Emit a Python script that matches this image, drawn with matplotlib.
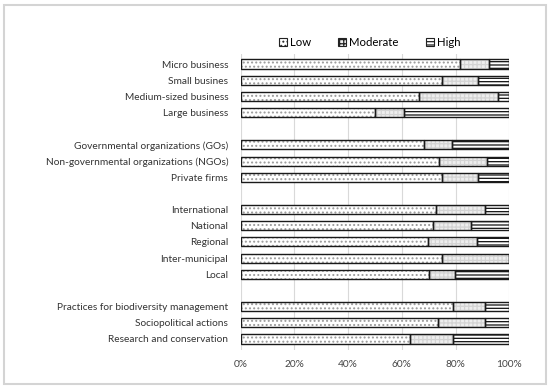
import numpy as np
import matplotlib.pyplot as plt
from matplotlib.patches import Patch, Rectangle

plt.rcParams['font.family'] = ['Lato', 'DejaVu Sans']
plt.rcParams['hatch.linewidth'] = 0.9

# =========================
# data (% of responses)
# =========================
groups = [
    ["Micro business", "Small busines", "Medium-sized business", "Large business"],
    ["Governmental organizations (GOs)", "Non-governmental organizations (NGOs)", "Private firms"],
    ["International", "National", "Regional", "Inter-municipal", "Local"],
    ["Practices for biodiversity management", "Sociopolitical actions", "Research and conservation"],
]
low = [81.6, 74.9, 66.5, 50.0,
       68.1, 73.9, 74.8,
       72.8, 71.5, 69.7, 74.9, 70.1,
       79.2, 73.6, 63.1]
moderate = [10.7, 13.6, 29.3, 10.9,
            10.4, 17.8, 13.7,
            18.0, 14.4, 18.3, 25.1, 9.8,
            11.9, 17.5, 15.8]
high = [7.7, 11.5, 4.2, 39.1,
        21.5, 8.3, 11.5,
        9.2, 14.1, 12.0, 0.0, 20.1,
        8.9, 8.9, 21.1]
series_names = ["Low", "Moderate", "High"]
xticks = [0, 20, 40, 60, 80, 100]

# =========================
# positions with a gap between groups
# =========================
labels, ypos = [], []
slot = 0
for g in groups:
    for name in g:
        labels.append(name)
        ypos.append(slot)
        slot += 1
    slot += 1
ypos = np.array(ypos)

styles = [
    dict(face="white", hatch="....", hcolor="#9a9a9a"),
    dict(face="#eeeeee", hatch="++++", hcolor="#d4d4d4"),
    dict(face="white", hatch="-----", hcolor="#111111"),
]

fig = plt.figure(figsize=(5.5, 3.89), dpi=100)
ax = fig.add_axes([0.4376, 0.1003, 0.4884, 0.7609])

left = np.zeros(len(labels))
bar_h = 0.56
for vals, st in zip([low, moderate, high], styles):
    vals = np.array(vals)
    ax.barh(ypos, vals, left=left, height=bar_h, color=st["face"],
            hatch=st["hatch"], edgecolor=st["hcolor"], linewidth=0.01, zorder=2)
    ax.barh(ypos, vals, left=left, height=bar_h, fill=False,
            edgecolor="#1a1a1a", linewidth=1.0, zorder=3)
    left += vals

ax.set_xlim(0, 100)
ax.set_ylim(17.68, -0.62)
ax.set_yticks(ypos)
ax.set_yticklabels(labels, fontsize=7.3, color="#333333")
ax.set_xticks(xticks)
ax.set_xticklabels([f"{t}%" for t in xticks], fontsize=7.3, color="#444444")
ax.tick_params(length=0, pad=9)
ax.tick_params(axis="x", pad=7)
ax.grid(axis="x", color="#d9d9d9", linewidth=0.8, zorder=0)
for s in ax.spines.values():
    s.set_visible(False)

# legend
handles = []
for name, st in zip(series_names, styles):
    handles.append(Patch(facecolor=st["face"], edgecolor="#222222",
                         hatch=st["hatch"], label=name, linewidth=0.8))
fig.legend(handles=handles, loc="center", bbox_to_anchor=(0.672, 0.892),
           ncol=3, frameon=False, fontsize=8.2, handlelength=0.7,
           handleheight=0.7, handletextpad=0.25, columnspacing=2.4)

# outer frame
fig.patches.append(Rectangle((0.008, 0.012), 0.984, 0.976, transform=fig.transFigure,
                             fill=False, edgecolor="#d4d4d4", linewidth=1.5))

plt.savefig("out.png", dpi=100)
plt.close()
